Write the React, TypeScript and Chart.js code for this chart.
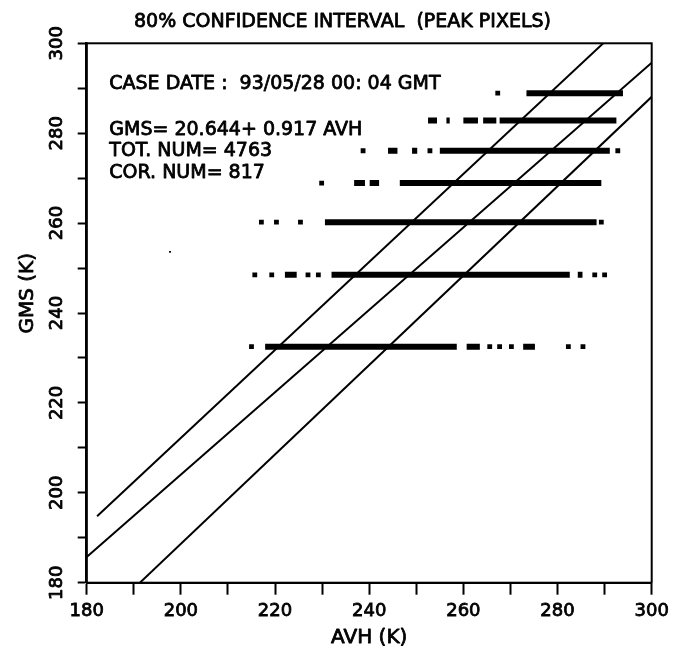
import React, { useEffect, useRef } from 'react';
import { Chart, registerables } from 'chart.js';

Chart.register(...registerables);

// ---------- data ----------
const chartTitle = '80% CONFIDENCE INTERVAL  (PEAK PIXELS)';
const xAxisTitle = 'AVH (K)';
const yAxisTitle = 'GMS (K)';
const annotationLines = ['CASE DATE :  93/05/28 00: 04 GMT', '', 'GMS= 20.644+ 0.917 AVH', 'TOT. NUM= 4763', 'COR. NUM= 817'];

const xTickValues = [180, 190, 200, 210, 220, 230, 240, 250, 260, 270, 280, 290, 300];
const yTickValues = [180, 190, 200, 210, 220, 230, 240, 250, 260, 270, 280, 290, 300];
const xTickLabels = [180, 200, 220, 240, 260, 280, 300];
const yTickLabels = [180, 200, 220, 240, 260, 280, 300];

// GMS level of each horizontal row of points
const rowLevels = [288.9, 282.8, 276.1, 268.9, 260.2, 248.5, 232.5];

// dense runs of points (AVH start, AVH end) per row
const row289Runs = [[273.4, 293.9]];
const row283Runs = [[252.5, 254.4], [256.4, 257.1], [260.0, 263.1], [264.2, 267.0], [267.7, 292.5]];
const row276Runs = [[244.0, 246.0], [249.1, 250.2], [255.0, 291.1]];
const row269Runs = [[236.8, 239.1], [240.1, 242.1], [246.5, 289.3]];
const row260Runs = [[230.6, 288.3]];
const row248Runs = [[222.1, 224.6], [232.0, 282.6], [284.3, 285.3]];
const row232Runs = [[217.9, 258.6], [260.7, 263.5], [272.7, 275.2]];

// isolated points (AVH) per row
const row289Dots = [267.3];
const row283Dots: number[] = [];
const row276Dots = [238.7, 252.9, 292.8];
const row269Dots = [229.9];
const row260Dots = [217.1, 220.3, 225.4, 289.3];
const row248Dots = [215.7, 219.3, 227.0, 229.2, 287.9, 290.0];
const row232Dots = [215.0, 265.6, 267.7, 270.2, 282.3, 285.4];

const strayX = [197.7];
const strayY = [253.6];

// regression line and confidence limits (end points)
const fitX = [180, 300];
const fitY = [185.7, 295.7];
const upperX = [182.2, 289.7];
const upperY = [194.8, 300];
const lowerX = [191.3, 300];
const lowerY = [180, 288.1];

// ---------- build ----------
const FONT = '"DejaVu Sans", "Liberation Sans", sans-serif';
const allRuns = [row289Runs, row283Runs, row276Runs, row269Runs, row260Runs, row248Runs, row232Runs];
const allDots = [row289Dots, row283Dots, row276Dots, row269Dots, row260Dots, row248Dots, row232Dots];

function buildDatasets(): any[] {
  const ds: any[] = [];
  const line = (xs: number[], ys: number[]) => ({
    data: xs.map((x, i) => ({ x, y: ys[i] })),
    showLine: true,
    borderColor: '#000',
    borderWidth: 2,
    pointRadius: 0,
    fill: false,
  });
  ds.push(line(fitX, fitY));
  ds.push(line(upperX, upperY));
  ds.push(line(lowerX, lowerY));
  rowLevels.forEach((lvl, r) => {
    allRuns[r].forEach(([a, b]) => {
      ds.push({
        data: [{ x: a, y: lvl }, { x: b, y: lvl }],
        showLine: true,
        borderColor: '#000',
        borderWidth: 6,
        borderCapStyle: 'butt',
        pointRadius: 0,
        fill: false,
      });
    });
    ds.push({
      data: allDots[r].map((x) => ({ x, y: lvl })),
      showLine: false,
      pointStyle: 'rect',
      pointRadius: 3.4,
      backgroundColor: '#000',
      borderWidth: 0,
    });
  });
  ds.push({
    data: strayX.map((x, i) => ({ x, y: strayY[i] })),
    showLine: false,
    pointStyle: 'rect',
    pointRadius: 1.3,
    backgroundColor: '#000',
    borderWidth: 0,
  });
  return ds;
}

function boldText(ctx: CanvasRenderingContext2D, t: string, x: number, y: number) {
  ctx.fillText(t, x, y);
  ctx.strokeText(t, x, y);
}

const overlay = {
  id: 'overlay',
  afterDraw(chart: any) {
    const { ctx, chartArea: a, scales } = chart;
    const y = scales.y;
    ctx.save();
    ctx.strokeStyle = '#000';
    ctx.lineWidth = 2;
    ctx.strokeRect(a.left, a.top, a.right - a.left, a.bottom - a.top);

    ctx.fillStyle = '#000';
    ctx.lineWidth = 0.8;
    ctx.lineJoin = 'round';
    ctx.font = `19px ${FONT}`;
    ctx.textAlign = 'center';
    ctx.textBaseline = 'middle';
    boldText(ctx, chartTitle, chart.width / 2, 14);

    ctx.textAlign = 'left';
    ctx.textBaseline = 'middle';
    const lineY = [a.top + 40.7, 0, a.top + 86.7, a.top + 107.4, a.top + 129.4];
    annotationLines.forEach((t, i) => {
      if (t) boldText(ctx, t, a.left + 22.6, lineY[i]);
    });

    ctx.font = `18px ${FONT}`;
    yTickLabels.forEach((v) => {
      const py = y.getPixelForValue(v);
      ctx.save();
      ctx.translate(a.left - 25, py);
      ctx.rotate(-Math.PI / 2);
      ctx.textAlign = 'center';
      ctx.textBaseline = 'alphabetic';
      boldText(ctx, String(v), 0, 0);
      ctx.restore();
    });

    ctx.font = `20px ${FONT}`;
    ctx.save();
    ctx.translate(a.left - 53.7, a.top + 250);
    ctx.rotate(-Math.PI / 2);
    ctx.textAlign = 'center';
    ctx.textBaseline = 'alphabetic';
    boldText(ctx, yAxisTitle, 0, 0);
    ctx.restore();

    // x axis title
    ctx.textAlign = 'center';
    ctx.textBaseline = 'middle';
    boldText(ctx, xAxisTitle, (a.left + a.right) / 2, 630);
    ctx.restore();
  },
};

export default function App() {
  const ref = useRef<HTMLCanvasElement>(null);
  useEffect(() => {
    if (!ref.current) return;
    Chart.defaults.font.family = FONT;
    const chart = new Chart(ref.current, {
      type: 'scatter',
      data: { datasets: buildDatasets() },
      options: {
        animation: false,
        responsive: false,
        devicePixelRatio: 1,
        events: [],
        layout: { padding: { top: 35.3, right: 25.3, left: 0, bottom: 0 } },
        plugins: { legend: { display: false }, tooltip: { enabled: false }, title: { display: false } },
        scales: {
          x: {
            type: 'linear',
            min: 180,
            max: 300,
            afterBuildTicks: (s: any) => {
              s.ticks = xTickValues.map((v) => ({ value: v }));
            },
            afterFit: (s: any) => {
              s.height = 67.3;
            },
            ticks: {
              autoSkip: false,
              maxRotation: 0,
              minRotation: 0,
              padding: 6,
              color: '#000',
              textStrokeColor: '#000',
              textStrokeWidth: 0.8,
              font: { family: FONT, size: 18 },
              callback: (v: any) => (xTickLabels.includes(Number(v)) ? String(v) : ''),
            },
            grid: { display: true, drawOnChartArea: false, drawTicks: true, tickLength: 12, tickWidth: 2, tickColor: '#000' },
            border: { display: true, color: '#000', width: 2 },
            title: { display: false },
          },
          y: {
            type: 'linear',
            min: 180,
            max: 300,
            afterBuildTicks: (s: any) => {
              s.ticks = yTickValues.map((v) => ({ value: v }));
            },
            afterFit: (s: any) => {
              s.width = 78.7;
            },
            ticks: { display: false },
            grid: { display: true, drawOnChartArea: false, drawTicks: true, tickLength: 9, tickWidth: 2, tickColor: '#000' },
            border: { display: true, color: '#000', width: 2.5 },
          },
        },
      },
      plugins: [overlay],
    } as any);
    return () => chart.destroy();
  }, []);
  return <canvas ref={ref} width={669} height={642} style={{ display: 'block' }} />;
}
